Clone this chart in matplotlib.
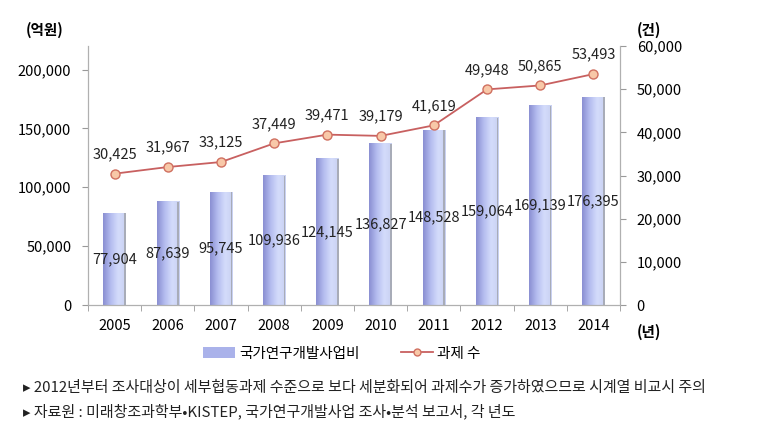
import numpy as np
import matplotlib.pyplot as plt
from matplotlib.colors import LinearSegmentedColormap
from matplotlib.patches import Rectangle

plt.rcParams['font.family'] = ['Noto Sans CJK KR', 'DejaVu Sans']

years = ['2005', '2006', '2007', '2008', '2009', '2010', '2011', '2012', '2013', '2014']
budget = [77904, 87639, 95745, 109936, 124145, 136827, 148528, 159064, 169139, 176395]
projects = [30425, 31967, 33125, 37449, 39471, 39179, 41619, 49948, 50865, 53493]

fig = plt.figure(figsize=(7.68, 4.26), dpi=100)
ax = fig.add_axes([0.1146, 0.284, 0.6927, 0.608])
ax2 = ax.twinx()

x = np.arange(len(years))
w = 0.42
grad = LinearSegmentedColormap.from_list('g', ['#8a8fd2', '#b4bcef', '#d4dcfb', '#c9d1f2'])
gimg = np.linspace(0, 1, 64).reshape(1, -1)
for xi, v in zip(x, budget):
    ax.imshow(gimg, cmap=grad, aspect='auto', extent=(xi - w / 2, xi + w / 2, 0, v),
              zorder=2, interpolation='bicubic')
    ax.add_patch(Rectangle((xi + w / 2 - 0.03, 0), 0.03, v, color='#a8acb8', lw=0, zorder=2))
    ax.text(xi, v / 2, f'{v:,}', ha='center', va='center', fontsize=10.5,
            color='#222222', zorder=4)

ax.set_xlim(-0.5, len(years) - 0.5)
ax.set_ylim(0, 220000)
ax.set_yticks([0, 50000, 100000, 150000, 200000])
ax.set_yticklabels(['0', '50,000', '100,000', '150,000', '200,000'])
ax.set_xticks(x)
ax.set_xticklabels(years)
ax.set_xticks(np.arange(-0.5, len(years)), minor=True)
ax.tick_params(axis='x', which='major', length=0, pad=10, labelsize=10.5)
ax.tick_params(axis='x', which='minor', length=4, color='#999999')
ax.tick_params(axis='y', length=4, color='#999999', labelsize=10.5, pad=8)

ax2.plot(x, projects, color='#c86060', lw=1.3, marker='o', ms=6.5,
         mfc='#f8c8a8', mec='#d07060', mew=1, zorder=5)
for xi, v in zip(x, projects):
    ax2.annotate(f'{v:,}', (xi, v), xytext=(0, 9), textcoords='offset points',
                 ha='center', va='bottom', fontsize=10.5, color='#222222')
ax2.set_ylim(0, 60000)
ax2.set_yticks(range(0, 60001, 10000))
ax2.set_yticklabels([f'{t:,}' for t in range(0, 60001, 10000)])
ax2.tick_params(axis='y', length=4, color='#999999', labelsize=10.5, pad=8)

for a in (ax, ax2):
    a.spines['top'].set_visible(False)
    for s in ('left', 'right', 'bottom'):
        a.spines[s].set_color('#b0b0b0')
ax.set_zorder(ax2.get_zorder() - 1)
ax2.patch.set_visible(False)

fig.text(0.058, 0.93, '(억원)', fontsize=10.5, fontweight='bold', ha='center', va='center')
fig.text(0.845, 0.93, '(건)', fontsize=10.5, fontweight='bold', ha='center', va='center')
fig.text(0.845, 0.22, '(년)', fontsize=10.5, fontweight='bold', ha='center', va='center')

bar_handle = Rectangle((0, 0), 1, 1, facecolor='#aab2ea', edgecolor='none')
line_handle, = ax2.plot([], [], color='#c86060', lw=1.3, marker='o', ms=5,
                        mfc='#f8c8a8', mec='#d07060')
fig.legend([bar_handle, line_handle], ['국가연구개발사업비', '과제 수'],
           loc='center', bbox_to_anchor=(0.445, 0.17), ncol=2, frameon=False,
           fontsize=10.5, handlelength=2.2, handletextpad=0.3, columnspacing=2.8)

fig.text(0.03, 0.09, '▸ 2012년부터 조사대상이 세부협동과제 수준으로 보다 세분화되어 과제수가 증가하였으므로 시계열 비교시 주의',
         fontsize=10.8, ha='left', va='center', color='#222222')
fig.text(0.03, 0.035, '▸ 자료원 : 미래창조과학부•KISTEP, 국가연구개발사업 조사•분석 보고서, 각 년도',
         fontsize=10.8, ha='left', va='center', color='#222222')

fig.savefig('out.png', dpi=100)
